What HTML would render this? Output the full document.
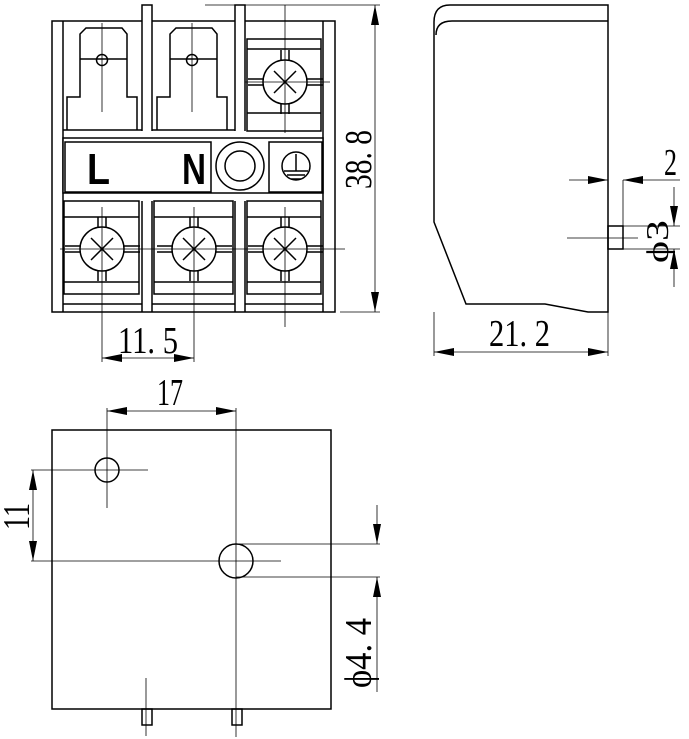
<!DOCTYPE html>
<html><head><meta charset="utf-8"><style>
html,body{margin:0;padding:0;background:#fff;}
svg{display:block;}
text{font-family:"Liberation Serif",serif;fill:#000;}
</style></head><body>
<svg width="689" height="739" viewBox="0 0 689 739" xmlns="http://www.w3.org/2000/svg">
<defs>
<marker id="ar" viewBox="0 0 20 8" refX="20" refY="4" markerWidth="20" markerHeight="8" markerUnits="userSpaceOnUse" orient="auto-start-reverse"><path d="M0,0 L20,4 L0,8 Z" fill="#000"/></marker>
<g id="screw">
  <circle cx="0" cy="0" r="22" fill="none"/>
  <line x1="-11" y1="-11" x2="11" y2="11"/><line x1="-11" y1="11" x2="11" y2="-11"/>
  <line x1="-4" y1="-32" x2="-4" y2="-21"/><line x1="4" y1="-32" x2="4" y2="-21"/>
  <line x1="-4" y1="32" x2="-4" y2="21"/><line x1="4" y1="32" x2="4" y2="21"/>
  <line x1="-37" y1="-3" x2="-21" y2="-3"/><line x1="-37" y1="3" x2="-21" y2="3"/>
  <line x1="21" y1="-3" x2="38" y2="-3"/><line x1="21" y1="3" x2="38" y2="3"/>
</g>
<g id="spade">
  <path d="M-35,130 V97 H-22 V34 L-16,28 H20 L25,34 V97 H35 V130" fill="none"/>
  <line x1="-22" y1="59" x2="25" y2="59"/>
  <circle cx="0" cy="60" r="5.5" fill="none"/>
  <line x1="0" y1="23" x2="0" y2="112" stroke-width="0.8"/>
</g>
</defs>

<g stroke="#000" stroke-width="1.5" fill="none">
<!-- front view -->
<rect x="52" y="21" width="283" height="291"/>
<line x1="63" y1="21" x2="63" y2="312"/>
<line x1="323" y1="21" x2="323" y2="312"/>
<path d="M142,131 V5 H152 V131 M235,131 V5 H245 V131" fill="#fff"/>
<path d="M142,201 V312 M152,201 V312 M235,201 V312 M245,201 V312"/>
<line x1="63" y1="130" x2="142" y2="130"/>
<line x1="152" y1="130" x2="235" y2="130"/>
<use href="#spade" x="102" y="0"/>
<use href="#spade" x="192" y="0"/>
<!-- top right screw cell -->
<rect x="247" y="39" width="74" height="92"/>
<line x1="247" y1="49" x2="321" y2="49"/>
<line x1="247" y1="113" x2="321" y2="113"/>
<use href="#screw" x="285" y="82"/>
<!-- middle band -->
<rect x="63" y="138" width="260" height="55" fill="#fff"/>
<rect x="65" y="142" width="146" height="50"/>
<circle cx="240" cy="166" r="24"/>
<circle cx="240" cy="166" r="15"/>
<rect x="269" y="142" width="53" height="50"/>
<circle cx="296" cy="166" r="14"/>
<line x1="296" y1="154" x2="296" y2="171"/>
<line x1="284" y1="171" x2="308" y2="171"/>
<line x1="287" y1="175" x2="305" y2="175"/>
<line x1="291" y1="179" x2="301" y2="179"/>
<!-- bottom cells -->
<rect x="64" y="201" width="75" height="93"/>
<rect x="154" y="201" width="79" height="93"/>
<rect x="247" y="201" width="74" height="93"/>
<line x1="64" y1="217" x2="139" y2="217"/><line x1="154" y1="217" x2="233" y2="217"/><line x1="247" y1="217" x2="321" y2="217"/>
<line x1="64" y1="282" x2="139" y2="282"/><line x1="154" y1="282" x2="233" y2="282"/><line x1="247" y1="282" x2="321" y2="282"/>
<line x1="63" y1="304" x2="142" y2="304"/><line x1="152" y1="304" x2="235" y2="304"/><line x1="245" y1="304" x2="323" y2="304"/>
<use href="#screw" x="102" y="249"/>
<use href="#screw" x="194" y="249"/>
<use href="#screw" x="285" y="249"/>
</g>
<g stroke="#000" stroke-width="0.8" fill="none">
<line x1="60" y1="249" x2="345" y2="249"/>
<line x1="245" y1="82" x2="330" y2="82"/>
<line x1="285" y1="5" x2="285" y2="133"/>
<line x1="102" y1="207" x2="102" y2="362"/>
<line x1="194" y1="207" x2="194" y2="362"/>
<line x1="285" y1="207" x2="285" y2="327"/>
<!-- dims -->
<line x1="205" y1="5" x2="380" y2="5"/>
<line x1="340" y1="312" x2="380" y2="312"/>
<line x1="375" y1="5" x2="375" y2="312" marker-start="url(#ar)" marker-end="url(#ar)"/>
<line x1="102" y1="358" x2="194" y2="358" marker-start="url(#ar)" marker-end="url(#ar)"/>
</g>
<text x="87" y="184" font-weight="bold" font-size="44" textLength="23" lengthAdjust="spacingAndGlyphs" style="font-family:'Liberation Sans',sans-serif">L</text>
<text x="182" y="184" font-weight="bold" font-size="44" textLength="24" lengthAdjust="spacingAndGlyphs" style="font-family:'Liberation Sans',sans-serif">N</text>
<text x="118" y="353" font-size="38" textLength="60" lengthAdjust="spacingAndGlyphs">11. 5</text>
<text transform="translate(371,189) rotate(-90)" font-size="38" textLength="59" lengthAdjust="spacingAndGlyphs">38. 8</text>

<!-- side view -->
<g stroke="#000" stroke-width="1.5" fill="none">
<path d="M608,5 H450 Q434,5 434,22 V222 L466,304 H545 L588,312 H608 Z"/>
<path d="M608,21 H452 Q436,21 436,35"/>
<rect x="608" y="226" width="15" height="23"/>
</g>
<g stroke="#000" stroke-width="0.8" fill="none">
<line x1="567" y1="238" x2="638" y2="238"/>
<line x1="569" y1="180" x2="608" y2="180" marker-end="url(#ar)"/>
<line x1="680" y1="180" x2="623" y2="180" marker-end="url(#ar)"/>
<line x1="623" y1="180" x2="623" y2="226"/>
<line x1="623" y1="226" x2="680" y2="226"/>
<line x1="623" y1="249" x2="680" y2="249"/>
<line x1="674" y1="187" x2="674" y2="226" marker-end="url(#ar)"/>
<line x1="674" y1="287" x2="674" y2="249" marker-end="url(#ar)"/>
<line x1="434" y1="312" x2="434" y2="356"/>
<line x1="608" y1="312" x2="608" y2="356"/>
<line x1="434" y1="352" x2="608" y2="352" marker-start="url(#ar)" marker-end="url(#ar)"/>
</g>
<text x="664" y="175" font-size="38" textLength="13" lengthAdjust="spacingAndGlyphs">2</text>
<text transform="translate(668,263) rotate(-90)" font-size="32" textLength="43" lengthAdjust="spacingAndGlyphs">ϕ3</text>
<text x="489" y="346" font-size="38" textLength="61" lengthAdjust="spacingAndGlyphs">21. 2</text>

<!-- bottom view -->
<g stroke="#000" stroke-width="1.5" fill="none">
<rect x="52" y="430" width="279" height="279"/>
<circle cx="107" cy="470" r="12"/>
<circle cx="236" cy="561" r="17"/>
<rect x="142" y="709" width="10" height="16"/>
<rect x="232" y="709" width="10" height="16"/>
</g>
<g stroke="#000" stroke-width="0.8" fill="none">
<line x1="236" y1="408" x2="236" y2="737"/>
<line x1="107" y1="408" x2="107" y2="508"/>
<line x1="31" y1="470" x2="148" y2="470"/>
<line x1="31" y1="561" x2="281" y2="561"/>
<line x1="146" y1="678" x2="146" y2="736"/>
<line x1="107" y1="411" x2="236" y2="411" marker-start="url(#ar)" marker-end="url(#ar)"/>
<line x1="33" y1="470" x2="33" y2="561" marker-start="url(#ar)" marker-end="url(#ar)"/>
<line x1="236" y1="544" x2="380" y2="544"/>
<line x1="236" y1="577" x2="380" y2="577"/>
<line x1="377" y1="505" x2="377" y2="544" marker-end="url(#ar)"/>
<line x1="377" y1="692" x2="377" y2="577" marker-end="url(#ar)"/>
</g>
<text x="157" y="405" font-size="38" textLength="26" lengthAdjust="spacingAndGlyphs">17</text>
<text transform="translate(29,530) rotate(-90)" font-size="38" textLength="27" lengthAdjust="spacingAndGlyphs">11</text>
<text transform="translate(371,688) rotate(-90)" font-size="38" textLength="70" lengthAdjust="spacingAndGlyphs">ϕ4. 4</text>
</svg>
</body></html>
